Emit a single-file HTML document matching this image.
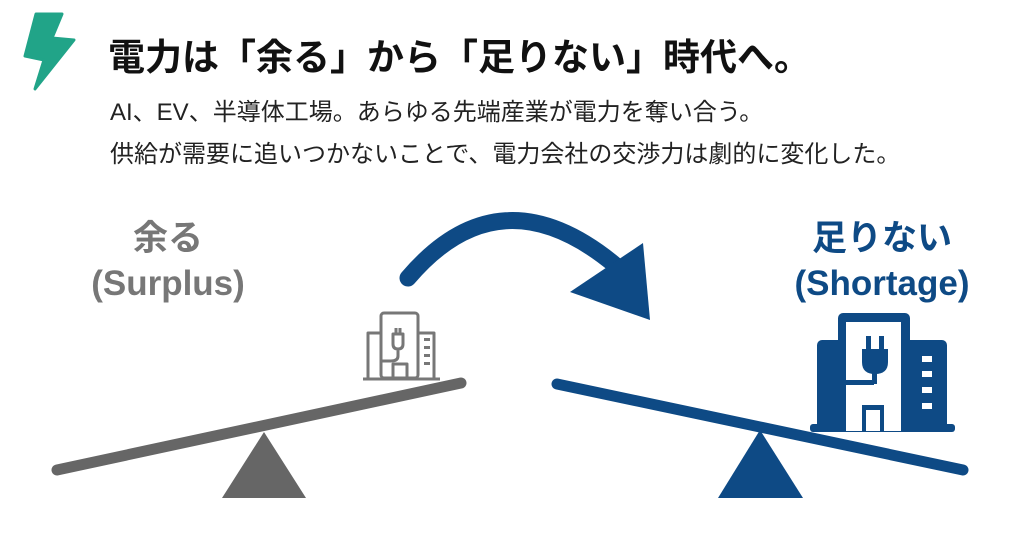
<!DOCTYPE html>
<html><head><meta charset="utf-8"><style>
body{margin:0;width:1024px;height:542px;background:#fff;overflow:hidden;font-family:"Liberation Sans","Noto Sans CJK JP",sans-serif;position:relative}
.t{position:absolute;white-space:nowrap}
</style></head><body>
<svg width="1024" height="542" style="position:absolute;left:0;top:0">
<polygon points="36,14 62,14 52,38 74,40 35,89 44,60 25,56" fill="#21a488" stroke="#21a488" stroke-width="3" stroke-linejoin="round"/>
<path d="M408,278 Q500,170 615,265" fill="none" stroke="#0e4a85" stroke-width="17" stroke-linecap="round"/>
<polygon points="570,292 643,243 650,320" fill="#0e4a85"/>
<line x1="57" y1="470" x2="461" y2="383" stroke="#666" stroke-width="11" stroke-linecap="round"/>
<polygon points="264,432 222,498 306,498" fill="#666"/>
<line x1="557" y1="384" x2="963" y2="470" stroke="#0e4a85" stroke-width="11" stroke-linecap="round"/>
<polygon points="760,430 718,498 803,498" fill="#0e4a85"/>
<g fill="none" stroke="#777" stroke-width="3" stroke-linejoin="round">
<rect x="381" y="313" width="37" height="65" rx="3"/>
<path d="M381,333 H368 V378 M418,333 H434 V378"/>
<path d="M363,379 H440"/>
<rect x="393" y="364" width="14" height="14"/>
<path d="M393,334 V344 Q393,349 398,349 Q403,349 403,344 V334 Z M396,334 V328 M400,334 V328 M398,349 V356 Q398,361 391,361 H381"/>
</g>
<g fill="#777"><rect x="424" y="338" width="6" height="3"/><rect x="424" y="346" width="6" height="3"/><rect x="424" y="354" width="6" height="3"/><rect x="424" y="362" width="6" height="3"/></g>
<g fill="#0e4a85">
<rect x="838" y="313" width="72" height="118" rx="5"/>
<rect x="817" y="340" width="34" height="91" rx="5"/>
<rect x="895" y="340" width="52" height="91" rx="5"/>
<rect x="810" y="424" width="145" height="8" rx="3"/>
</g>
<g fill="#fff"><path d="M846,322 H901 V431 H884 V405 H862 V431 H846 Z"/></g>
<g fill="#0e4a85">
<path d="M862,349 H888 V362 Q888,374 875,374 Q862,374 862,362 Z"/>
<rect x="866" y="336" width="5" height="15"/><rect x="879" y="336" width="5" height="15"/>
<rect x="846" y="380" width="28" height="5"/>
<rect x="872" y="370" width="5" height="14"/>
<rect x="866" y="410" width="14" height="21" fill="#fff"/>
</g>
<g fill="#fff"><rect x="922" y="356" width="10" height="6"/><rect x="922" y="371" width="10" height="6"/><rect x="922" y="387" width="10" height="6"/><rect x="922" y="403" width="10" height="6"/></g>
</svg>
<div class="t" style="left:108px;top:27px;font-size:37px;font-weight:bold;color:#111">電力は「余る」から「足りない」時代へ。</div>
<div class="t" style="left:110px;top:92px;font-size:24px;color:#222">AI、EV、半導体工場。あらゆる先端産業が電力を奪い合う。</div>
<div class="t" style="left:110px;top:134px;font-size:24px;color:#222">供給が需要に追いつかないことで、電力会社の交渉力は劇的に変化した。</div>
<div class="t" style="left:48px;top:216px;width:240px;text-align:center;font-size:35px;font-weight:bold;color:#777;line-height:45px">余る<br>(Surplus)</div>
<div class="t" style="left:762px;top:216px;width:240px;text-align:center;font-size:35px;font-weight:bold;color:#0e4a85;line-height:45px">足りない<br>(Shortage)</div>
</body></html>
